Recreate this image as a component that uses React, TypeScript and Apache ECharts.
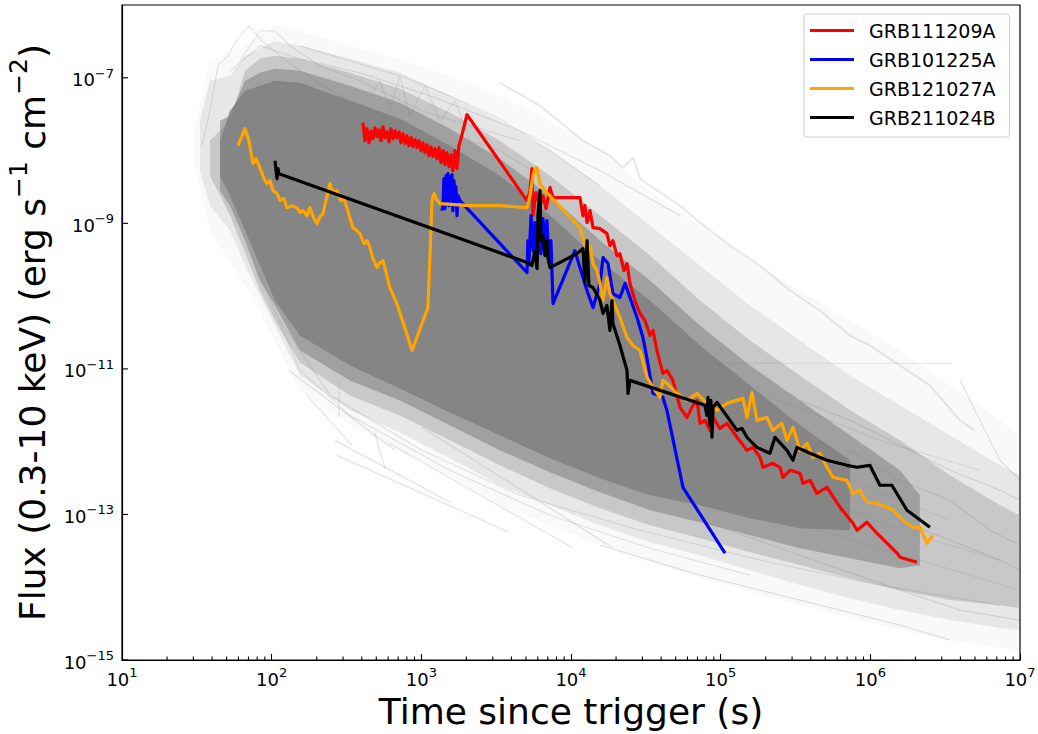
import React, { useEffect, useRef } from "react";
import * as echarts from "echarts";

// Every curve as [log10(time / s), log10(flux / erg s^-1 cm^-2)]
const grb111209A: number[][] = [
  [2.610,-7.618],[2.623,-7.865],[2.637,-7.700],[2.650,-7.893],[2.664,-7.728],[2.677,-7.838],[2.690,-7.687],[2.704,-7.810],[2.717,-7.714],[2.730,-7.865],
  [2.744,-7.673],[2.757,-7.824],[2.770,-7.742],[2.784,-7.879],[2.797,-7.700],[2.811,-7.838],[2.824,-7.728],[2.837,-7.824],[2.851,-7.742],[2.864,-7.893],
  [2.877,-7.769],[2.891,-7.906],[2.904,-7.797],[2.917,-7.934],[2.931,-7.824],[2.944,-7.947],[2.958,-7.851],[2.971,-7.961],[2.984,-7.865],[2.998,-8.002],
  [3.011,-7.893],[3.024,-8.030],[3.038,-7.920],[3.051,-8.071],[3.064,-7.947],[3.078,-8.085],[3.091,-7.975],[3.105,-8.112],[3.118,-7.961],[3.131,-8.167],
  [3.145,-8.002],[3.158,-8.194],[3.171,-8.030],[3.185,-8.222],[3.198,-8.057],[3.211,-8.277],[3.225,-8.002],[3.238,-8.249],[3.251,-7.934],[3.265,-7.838],
  [3.278,-7.728],[3.292,-7.618],[3.305,-7.508],
  [3.706,-8.688],[3.726,-8.551],[3.739,-8.249],[3.746,-8.894],[3.766,-8.579],[3.793,-8.757],[3.813,-8.620],[3.833,-8.798],[3.860,-8.510],[3.880,-8.647],
  [4.060,-8.647],[4.080,-8.894],[4.093,-8.757],[4.107,-8.990],[4.127,-8.826],[4.147,-9.059],[4.194,-9.073],[4.240,-9.141],[4.260,-9.306],[4.280,-9.237],
  [4.307,-9.443],[4.327,-9.416],[4.354,-9.649],[4.374,-9.553],[4.394,-9.827],[4.427,-10.061],[4.461,-10.239],[4.494,-10.335],[4.528,-10.541],[4.548,-10.472],
  [4.574,-10.747],[4.614,-11.062],[4.641,-11.021],[4.681,-11.158],[4.728,-11.529],[4.775,-11.666],[4.815,-11.501],[4.842,-11.433],[4.862,-11.748],[4.895,-11.707],
  [4.928,-11.844],[4.949,-11.666],[4.995,-11.817],[5.042,-11.748],[5.109,-11.940],[5.176,-12.119],[5.216,-12.078],[5.263,-12.215],[5.283,-12.352],[5.349,-12.297],
  [5.396,-12.352],[5.416,-12.489],[5.463,-12.393],[5.530,-12.434],[5.550,-12.572],[5.597,-12.531],[5.643,-12.709],[5.710,-12.627],[5.797,-12.901],[5.884,-13.121],
  [5.911,-13.217],[5.977,-13.107],[6.044,-13.258],[6.111,-13.395],[6.178,-13.532],[6.198,-13.587],[6.311,-13.656],
];

const grb101225A: number[][] = [
  [3.138,-8.826],[3.145,-8.757],[3.151,-8.387],[3.158,-8.798],[3.165,-8.345],[3.171,-8.688],[3.178,-8.318],[3.185,-8.757],[3.191,-8.359],[3.198,-8.661],
  [3.205,-8.332],[3.211,-8.826],[3.218,-8.414],[3.225,-8.688],[3.231,-8.496],[3.238,-8.894],[3.245,-8.620],[3.258,-8.688],
  [3.706,-9.676],[3.712,-9.237],[3.719,-9.539],[3.733,-8.894],[3.746,-9.375],[3.759,-8.990],
  [3.773,-9.512],[3.786,-9.100],[3.799,-9.416],[3.813,-8.935],[3.826,-9.375],[3.839,-8.963],[3.853,-9.539],[3.866,-9.237],[3.880,-10.102],[4.026,-9.375],
  [4.060,-9.608],[4.107,-9.923],[4.147,-10.157],[4.194,-9.827],[4.214,-9.471],[4.247,-9.553],[4.280,-9.965],[4.327,-10.019],[4.361,-9.827],[4.394,-10.019],
  [4.441,-10.294],[4.481,-10.568],[4.508,-10.857],[4.548,-11.337],[4.594,-11.364],[4.614,-11.392],[4.641,-11.570],[4.748,-12.627],[5.029,-13.532],
];

const grb121027A: number[][] = [
  [1.775,-7.934],[1.822,-7.700],[1.848,-7.865],[1.875,-8.181],[1.895,-8.112],[1.922,-8.236],[1.949,-8.387],[1.969,-8.455],[1.989,-8.414],[2.009,-8.551],
  [2.036,-8.592],[2.056,-8.688],[2.082,-8.661],[2.102,-8.785],[2.136,-8.757],[2.169,-8.785],[2.189,-8.853],[2.209,-8.826],[2.236,-8.894],[2.256,-8.785],
  [2.283,-8.935],[2.303,-9.004],[2.323,-8.908],[2.343,-8.867],[2.363,-8.688],[2.390,-8.455],[2.410,-8.579],[2.436,-8.551],[2.463,-8.688],[2.483,-8.661],
  [2.503,-8.785],[2.523,-8.935],[2.543,-9.059],[2.570,-9.100],[2.590,-9.141],[2.617,-9.278],[2.637,-9.237],[2.657,-9.333],[2.677,-9.484],[2.704,-9.608],
  [2.724,-9.539],[2.744,-9.512],[2.770,-9.718],[2.790,-9.882],[2.837,-10.102],[2.938,-10.747],[3.044,-10.157],[3.064,-9.100],[3.071,-8.688],[3.085,-8.592],
  [3.098,-8.661],[3.125,-8.730],[3.325,-8.757],[3.525,-8.757],[3.706,-8.785],[3.726,-8.620],[3.746,-8.345],[3.759,-8.249],[3.773,-8.236],[3.793,-8.455],
  [3.826,-8.551],[4.060,-9.059],[4.080,-9.196],[4.107,-9.416],[4.127,-9.306],[4.147,-9.553],[4.174,-9.649],[4.194,-9.827],[4.214,-10.061],[4.240,-9.745],
  [4.260,-9.965],[4.294,-10.129],[4.327,-10.294],[4.374,-10.568],[4.414,-10.678],[4.461,-10.747],[4.508,-11.117],[4.548,-11.254],[4.594,-11.392],[4.614,-11.158],
  [4.641,-11.200],[4.708,-11.337],[4.775,-11.433],[4.842,-11.337],[4.908,-11.474],[4.975,-11.570],[5.042,-11.474],[5.149,-11.405],[5.176,-11.666],[5.209,-11.323],
  [5.242,-11.707],[5.309,-11.666],[5.349,-11.844],[5.409,-11.748],[5.443,-11.982],[5.483,-11.803],[5.530,-12.119],[5.577,-12.023],[5.617,-12.215],[5.663,-12.160],
  [5.710,-12.352],[5.750,-12.489],[5.844,-12.531],[5.884,-12.709],[5.931,-12.668],[5.977,-12.832],[6.044,-12.846],[6.111,-12.901],[6.151,-12.942],[6.218,-13.079],
  [6.285,-13.176],[6.331,-13.176],[6.378,-13.395],[6.418,-13.285],
];

const grb211024B: number[][] = [
  [2.022,-8.140],[2.036,-8.387],[2.042,-8.249],[2.049,-8.318],[3.706,-9.539],[3.739,-9.580],[3.759,-9.375],[3.773,-9.622],[3.779,-8.894],[3.793,-8.551],
  [3.799,-9.237],[3.813,-9.169],[3.826,-9.443],[3.839,-9.237],[3.846,-9.471],[3.860,-9.608],[4.040,-9.416],[4.080,-9.347],[4.093,-9.814],[4.107,-9.237],
  [4.120,-9.855],[4.147,-9.882],[4.194,-10.061],[4.214,-10.239],[4.240,-10.129],[4.260,-10.472],[4.274,-10.061],[4.280,-10.376],[4.327,-10.678],[4.374,-11.021],
  [4.381,-11.337],[4.394,-11.158],[4.895,-11.501],[4.908,-11.639],[4.915,-11.392],[4.928,-11.776],[4.935,-11.433],[4.942,-11.940],[4.949,-11.529],[4.975,-11.460],
  [5.062,-11.707],[5.109,-11.844],[5.142,-11.817],[5.176,-11.940],[5.242,-12.078],[5.329,-12.160],[5.363,-11.940],[5.443,-12.119],[5.483,-12.256],[5.510,-12.078],
  [5.597,-12.160],[5.710,-12.256],[5.844,-12.325],[5.911,-12.352],[5.997,-12.325],[6.064,-12.599],[6.144,-12.599],[6.245,-12.942],[6.398,-13.176],
];

// Density of the background GRB sample: [log10 t, log10 upper flux, log10 lower flux]
const sampleHalo: number[][] = [
  [1.488,-7.659,-8.208],[1.588,-6.767,-9.100],[1.822,-6.561,-9.855],[2.022,-6.287,-10.610],[2.189,-6.356,-11.296],
  [2.523,-6.561,-11.776],[2.857,-6.740,-12.119],[3.191,-6.973,-12.462],[3.525,-7.248,-12.874],[3.860,-7.591,-13.148],
  [4.194,-8.002,-13.423],[4.528,-8.551,-13.656],[4.862,-9.031,-13.875],[5.196,-9.512,-14.067],[5.530,-9.923,-14.246],
  [5.864,-10.335,-14.424],[6.198,-10.747,-14.589],[6.532,-11.227,-14.726],[6.866,-11.707,-14.836],[7.0,-11.913,-14.863],
];
const sampleOuter: number[][] = [
  [1.521,-7.591,-8.277],[1.588,-7.042,-8.757],[1.722,-6.973,-9.100],[1.822,-6.699,-9.580],[2.022,-6.493,-10.404],
  [2.189,-6.561,-11.090],[2.523,-6.740,-11.570],[2.857,-6.932,-11.872],[3.191,-7.248,-12.229],[3.525,-7.591,-12.599],
  [3.860,-8.002,-12.874],[4.194,-8.483,-13.148],[4.528,-9.031,-13.381],[4.862,-9.580,-13.560],[5.196,-10.129,-13.766],
  [5.530,-10.610,-13.971],[5.864,-11.090,-14.150],[6.198,-11.501,-14.314],[6.532,-11.913,-14.452],[6.866,-12.325,-14.561],
  [7.0,-12.462,-14.589],
];
const sampleInner: number[][] = [
  [1.588,-7.865,-8.345],[1.722,-7.591,-8.894],[1.822,-6.905,-9.400],[1.922,-6.740,-9.923],[2.022,-6.699,-10.335],
  [2.189,-6.740,-10.911],[2.523,-6.932,-11.364],[2.857,-7.152,-11.639],[3.191,-7.481,-11.982],[3.525,-7.865,-12.325],
  [3.860,-8.345,-12.640],[4.194,-8.894,-12.915],[4.528,-9.443,-13.148],[4.862,-10.061,-13.326],[5.196,-10.610,-13.519],
  [5.530,-11.090,-13.697],[5.864,-11.570,-13.875],[6.198,-11.982,-14.040],[6.532,-12.462,-14.177],[6.866,-12.874,-14.246],
  [7.0,-13.011,-14.287],
];
const sampleCore: number[][] = [
  [1.655,-7.591,-8.551],[1.722,-7.522,-8.757],[1.822,-7.042,-9.237],[1.922,-6.932,-9.786],[2.022,-6.877,-10.129],
  [2.189,-6.905,-10.747],[2.523,-7.110,-11.158],[2.857,-7.344,-11.433],[3.191,-7.700,-11.776],[3.525,-8.112,-12.119],
  [3.860,-8.620,-12.421],[4.194,-9.237,-12.695],[4.528,-9.786,-12.942],[4.862,-10.404,-13.107],[5.196,-10.953,-13.285],
  [5.530,-11.433,-13.464],[5.864,-11.913,-13.601],[6.198,-12.393,-13.738],[6.331,-12.736,-13.697],
];
const sampleDeep: number[][] = [
  [1.655,-7.865,-8.345],[1.722,-7.453,-8.620],[1.822,-7.179,-9.100],[2.022,-7.042,-10.061],[2.189,-7.069,-10.541],
  [2.523,-7.316,-10.953],[2.857,-7.563,-11.268],[3.191,-7.934,-11.598],[3.525,-8.345,-11.913],[3.860,-8.894,-12.229],
  [4.194,-9.512,-12.503],[4.528,-10.061,-12.736],[4.862,-10.678,-12.874],[5.196,-11.227,-13.052],[5.530,-11.776,-13.189],
  [5.864,-12.256,-13.217],
];

// Individual faint background light curves
const bgBright: number[][] = [
  [3.525,-7.069],[3.793,-7.385],[4.080,-7.865],[4.260,-8.071],[4.347,-8.236],[4.414,-8.098],[4.461,-8.387],[4.528,-8.483],[4.728,-8.757],[4.862,-8.990],
  [5.062,-9.306],[5.263,-9.580],[5.463,-9.923],[5.663,-10.198],[5.864,-10.541],[5.997,-10.678],[6.198,-10.953],[6.398,-11.227],[6.599,-11.707],[6.699,-11.844],
];
const bgFlat: number[][] = [[4.862,-10.925],[6.545,-10.925]];
const bgSteep: number[][][] = [
  [[2.423,-11.982],[3.205,-12.846]],
  [[2.436,-12.188],[3.586,-13.244]],
  [[2.223,-11.337],[2.537,-12.050]],
  [[2.690,-11.886],[2.757,-12.366]],
  [[2.784,-12.023],[4.006,-13.450]],
  [[3.004,-11.803],[4.274,-13.450]],
  [[2.116,-11.021],[2.824,-12.119]],
  [[2.450,-11.200],[2.450,-11.666]],
];
const bgEarly: number[][][] = [
  [[1.535,-7.934],[1.588,-7.453],[1.641,-6.836],[1.708,-6.699],[1.762,-6.493],[1.848,-6.287],[1.935,-6.493],[2.056,-6.699],[2.189,-6.905],[2.456,-7.248],[2.857,-7.591]],
  [[1.788,-6.767],[1.922,-6.356],[2.022,-6.356],[2.122,-6.561],[2.323,-6.836],[2.590,-7.042],[3.004,-7.453],[3.325,-7.659],[3.659,-7.865]],
  [[2.657,-7.248],[2.724,-7.042],[2.790,-7.453],[2.857,-6.973],[2.924,-7.522],[3.024,-7.110],[3.125,-7.591],[3.225,-7.316],[3.325,-7.865],[3.525,-8.002],[3.793,-8.345]],
];
const bgLate: number[][][] = [
  [[5.530,-11.433],[5.864,-11.707],[6.198,-12.050],[6.532,-12.393],[6.866,-12.668],[7.0,-12.805]],
  [[5.864,-12.119],[6.198,-12.531],[6.532,-12.805],[6.799,-13.217],[7.0,-13.423]],
  [[6.198,-13.079],[6.532,-13.354],[6.866,-13.628],[7.0,-13.766]],
  [[4.862,-13.079],[5.530,-13.560],[6.198,-14.040],[6.599,-14.314],[7.0,-14.452]],
  [[4.194,-13.423],[4.862,-13.834],[5.530,-14.177],[6.198,-14.520],[6.532,-14.726]],
  [[6.599,-11.158],[6.732,-11.707],[6.866,-12.256],[7.0,-12.531]],
];
const bgMid: number[][][] = [
  [[1.722,-7.728],[2.189,-8.688],[2.857,-9.649],[3.525,-10.472],[4.194,-11.433],[4.862,-12.119],[5.530,-12.668],[6.198,-13.217],[6.866,-13.628]],
  [[1.855,-7.316],[2.523,-8.277],[3.191,-9.100],[3.860,-10.061],[4.528,-11.158],[5.196,-11.982],[5.864,-12.531],[6.532,-13.079]],
  [[1.922,-8.688],[2.390,-10.061],[3.004,-11.021],[3.659,-11.707],[4.327,-12.256],[4.995,-12.805],[5.663,-13.217],[6.331,-13.628],[7.0,-14.040]],
  [[2.056,-7.042],[2.724,-7.865],[3.392,-8.551],[4.060,-9.512],[4.728,-10.610],[5.396,-11.433],[6.064,-11.982],[6.732,-12.393]],
];
const bgEdge: number[][][] = [
  [[2.189,-6.561],[2.523,-6.767],[2.857,-6.973],[3.191,-7.248],[3.525,-7.563],[3.860,-8.002],[4.194,-8.483]],
  [[1.722,-6.905],[1.922,-6.561],[2.189,-6.740],[2.590,-6.932],[3.058,-7.248],[3.659,-7.728],[4.194,-8.277],[4.728,-8.894]],
  [[1.855,-9.375],[2.189,-11.021],[2.523,-11.639],[3.191,-12.393],[3.860,-13.011],[4.528,-13.464],[5.196,-13.834]],
  [[2.056,-10.335],[2.390,-11.364],[3.004,-12.119],[3.659,-12.736],[4.461,-13.217],[5.263,-13.628],[6.064,-13.971],[6.866,-14.246]],
];

// Axis ticks
const xDecades = [1e1, 1e2, 1e3, 1e4, 1e5, 1e6];
const xMinorMantissas = [2, 3, 4, 5, 6, 7, 8, 9];
const yLabelledTicks = [1e-15, 1e-13, 1e-11, 1e-9, 1e-7];

const legendNames = ["GRB111209A", "GRB101225A", "GRB121027A", "GRB211024B"];
const legendColors = ["#ff0000", "#0000ff", "#ffa500", "#000000"];

const FONT = "DejaVu Sans";
const X_MIN = 1e1, X_MAX = 1e7, Y_MIN = 1e-15, Y_MAX = 1e-6;

const p10 = (v: number) => Math.pow(10, v);
const toPoints = (curve: number[][]) => curve.map(([lt, lf]) => [p10(lt), p10(lf)]);

function bandSeries(band: number[][], opacity: number) {
  return {
    type: "custom",
    silent: true,
    clip: true,
    z: 1,
    data: band.map(([lt, hi, lo]) => [p10(lt), p10(hi), p10(lo)]),
    encode: { x: 0, y: [1, 2] },
    renderItem: (params: any, api: any) => {
      if (params.dataIndex !== 0) return null;
      const upper = band.map(([lt, hi]) => api.coord([p10(lt), p10(hi)]));
      const lower = band.map(([lt, , lo]) => api.coord([p10(lt), p10(lo)])).reverse();
      return {
        type: "polygon",
        shape: { points: upper.concat(lower) },
        style: { fill: `rgba(128,128,128,${opacity})` },
      };
    },
  };
}

function grayLine(curve: number[][], opacity: number, width = 1.2) {
  return {
    type: "line",
    silent: true,
    z: 1,
    data: toPoints(curve),
    symbol: "none",
    showSymbol: false,
    lineStyle: { color: "#808080", opacity, width },
    emphasis: { disabled: true },
  };
}

function tickSeries(points: number[][], dx: number, dy: number) {
  return {
    type: "custom",
    silent: true,
    clip: false,
    z: 10,
    data: points,
    renderItem: (params: any, api: any) => {
      const p = api.coord([api.value(0), api.value(1)]);
      return {
        type: "line",
        shape: { x1: p[0], y1: p[1], x2: p[0] + dx, y2: p[1] + dy },
        style: { stroke: "#000", lineWidth: 1.1 },
      };
    },
  };
}

const expLabel = (v: number) => {
  const e = Math.round(Math.log10(v));
  return `{b|10}{s|${e < 0 ? "\u2212" : ""}${Math.abs(e)}}`;
};

const tickRich = {
  b: { fontSize: 18, fontFamily: FONT, color: "#000", lineHeight: 22, verticalAlign: "bottom" },
  s: { fontSize: 13, fontFamily: FONT, color: "#000", lineHeight: 13, verticalAlign: "top" },
};

export default function App() {
  const ref = useRef<HTMLDivElement>(null);

  useEffect(() => {
    if (!ref.current) return;
    const chart = echarts.init(ref.current, null, { renderer: "svg" });

    const xMinor: number[][] = [];
    xDecades.forEach((d) => xMinorMantissas.forEach((m) => xMinor.push([m * d, Y_MIN])));

    const colored = [grb111209A, grb101225A, grb121027A, grb211024B].map((curve, i) => ({
      name: legendNames[i],
      type: "line",
      z: 3,
      data: toPoints(curve),
      symbol: "none",
      showSymbol: false,
      lineStyle: { color: legendColors[i], width: 3.2, join: "round" },
      itemStyle: { color: legendColors[i] },
      emphasis: { disabled: true },
    }));

    const option: any = {
      animation: false,
      backgroundColor: "#ffffff",
      grid: {
        left: 122, right: 18, top: 5, bottom: 74,
        containLabel: false,
        outerBoundsMode: "none",
        show: true, borderColor: "#000", borderWidth: 1.2, backgroundColor: "transparent",
      },
      legend: {
        data: legendNames,
        orient: "vertical",
        left: 804,
        top: 14,
        padding: [7, 14, 10, 6],
        icon: "rect",
        itemWidth: 44,
        itemHeight: 3,
        itemGap: 10,
        backgroundColor: "rgba(255,255,255,0.8)",
        borderColor: "#cccccc",
        borderWidth: 1,
        borderRadius: 3,
        textStyle: { fontSize: 19, fontFamily: FONT, color: "#000", padding: [0, 0, 0, 10] },
        selectedMode: false,
      },
      xAxis: {
        type: "log",
        logBase: 10,
        min: X_MIN,
        max: X_MAX,
        z: 10,
        axisLine: { show: true, lineStyle: { color: "#000", width: 1.2 } },
        axisTick: { show: true, inside: true, length: 6, lineStyle: { color: "#000", width: 1.1 } },
        splitLine: { show: false },
        minorTick: { show: false },
        axisLabel: { margin: 6, formatter: expLabel, rich: tickRich },
        name: "Time since trigger (s)",
        nameLocation: "middle",
        nameGap: 31,
        nameMoveOverlap: false,
        nameTextStyle: { fontSize: 36, fontFamily: FONT, color: "#000", lineHeight: 40 },
      },
      yAxis: {
        type: "log",
        logBase: 10,
        min: Y_MIN,
        max: Y_MAX,
        z: 10,
        axisLine: { show: true, lineStyle: { color: "#000", width: 1.2 } },
        axisTick: { show: false },
        splitLine: { show: false },
        minorTick: { show: false },
        axisLabel: {
          margin: 8,
          formatter: (v: number) => {
            const e = Math.round(Math.log10(v));
            return e % 2 === 0 ? "" : expLabel(v);
          },
          rich: tickRich,
        },
        name: "{n|Flux (0.3-10 keV) (erg s}{p|\u22121}{n| cm}{p|\u22122}{n|)}",
        nameLocation: "middle",
        nameRotate: 90,
        nameGap: 72,
        nameMoveOverlap: false,
        nameTextStyle: {
          rich: {
            n: { fontSize: 36, fontFamily: FONT, color: "#000", lineHeight: 44, verticalAlign: "bottom" },
            p: { fontSize: 25, fontFamily: FONT, color: "#000", lineHeight: 25, verticalAlign: "top" },
          },
        },
      },
      series: [
        bandSeries(sampleHalo, 0.05),
        bandSeries(sampleOuter, 0.15),
        bandSeries(sampleInner, 0.3),
        bandSeries(sampleCore, 0.55),
        bandSeries(sampleDeep, 0.85),
        grayLine(bgBright, 0.18, 2),
        grayLine(bgFlat, 0.15),
        ...bgSteep.map((c) => grayLine(c, 0.22)),
        ...bgEarly.map((c) => grayLine(c, 0.2)),
        ...bgLate.map((c) => grayLine(c, 0.22)),
        ...bgMid.map((c) => grayLine(c, 0.15)),
        ...bgEdge.map((c) => grayLine(c, 0.2)),
        ...colored,
        tickSeries(xMinor, 0, -3.5),
        tickSeries(yLabelledTicks.map((v) => [X_MIN, v]), 6, 0),
      ],
    };

    chart.setOption(option);
    return () => chart.dispose();
  }, []);

  return (
    <div
      ref={ref}
      style={{ position: "fixed", left: 0, top: 0, width: 1038, height: 734, background: "#fff" }}
    />
  );
}
